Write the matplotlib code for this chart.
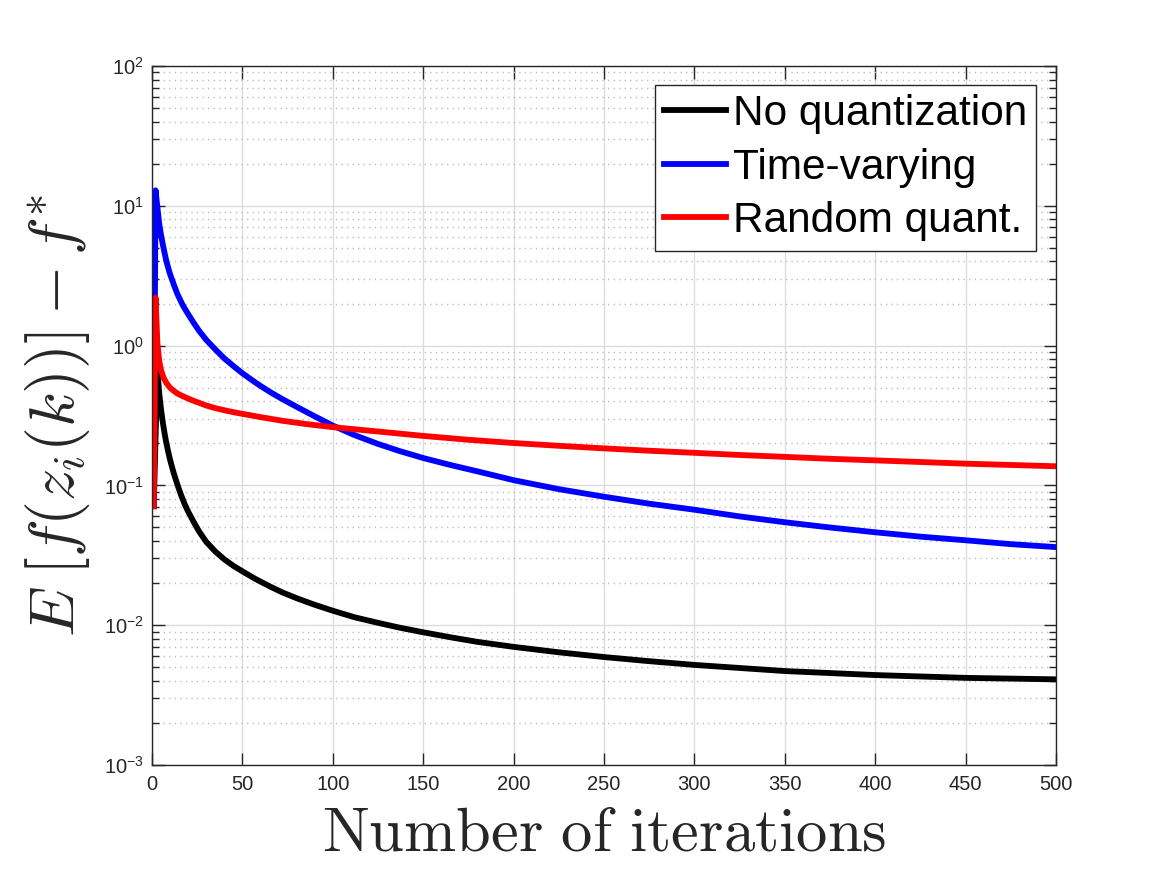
import numpy as np
import matplotlib
matplotlib.use("Agg")
import matplotlib.pyplot as plt
from matplotlib.ticker import LogLocator, FixedLocator, NullFormatter

plt.rcParams['font.family'] = ['Liberation Sans', 'DejaVu Sans']
plt.rcParams['mathtext.fontset'] = 'cm'

# iterations / values
k_noq = [1, 3, 4, 5, 6, 7, 8, 9, 10, 11, 12, 14, 16, 18, 20, 23, 26, 30, 35,
         40, 45, 50, 57, 65, 72, 80, 90, 100, 112, 125, 137, 150, 165,
         180, 200, 225, 250, 275, 300, 350, 400, 450, 500]
f_noq = [0.071, 0.68, 0.46, 0.352, 0.283, 0.235, 0.20, 0.174, 0.153, 0.137,
         0.123, 0.102, 0.086, 0.074, 0.065, 0.055, 0.047, 0.0395, 0.0337,
         0.0296, 0.0266, 0.0243, 0.0215, 0.0190, 0.0172, 0.0156, 0.0140,
         0.0127, 0.0114, 0.0104, 0.0096, 0.0089, 0.0082, 0.0076, 0.0070,
         0.0064, 0.00592, 0.00553, 0.0052, 0.0047, 0.0044, 0.0042, 0.0041]

k_tv = [1, 2, 3, 4, 5, 6, 7, 8, 9, 10, 12, 14, 17, 20, 23, 26, 30, 35, 40, 45,
        50, 55, 60, 66, 72, 80, 90, 100, 112, 125, 137, 150, 165, 180, 200,
        225, 250, 275, 300, 325, 350, 375, 400, 425, 450, 475, 500]
f_tv = [0.071, 12.9, 9.8, 7.5, 6.2, 5.3, 4.6, 4.0, 3.6, 3.25, 2.75, 2.35, 1.95,
        1.68, 1.46, 1.28, 1.1, 0.94, 0.81, 0.715, 0.635, 0.57, 0.515, 0.46,
        0.415, 0.365, 0.312, 0.268, 0.229, 0.198, 0.176, 0.157, 0.14, 0.126,
        0.109, 0.094, 0.083, 0.074, 0.067, 0.060, 0.0545, 0.050, 0.0462,
        0.043, 0.0405, 0.038, 0.0362]

k_rq = [1, 2, 3, 4, 5, 6, 7, 8, 10, 12, 14, 17, 20, 23, 26, 30, 35, 40, 45, 50,
        60, 72, 85, 100, 125, 150, 175, 200, 225, 250, 275, 300, 325, 350,
        375, 400, 425, 450, 475, 500]
f_rq = [0.071, 2.2, 1.05, 0.78, 0.67, 0.61, 0.57, 0.54, 0.5, 0.475, 0.455,
        0.435, 0.418, 0.403, 0.39, 0.373, 0.357, 0.345, 0.334, 0.325, 0.308,
        0.29, 0.275, 0.261, 0.243, 0.226, 0.212, 0.201, 0.192, 0.184, 0.177,
        0.171, 0.165, 0.160, 0.155, 0.151, 0.147, 0.143, 0.140, 0.137]

labels = ['No quantization', 'Time-varying', 'Random quant.']
x_ticks = list(range(0, 501, 50))

fig = plt.figure(figsize=(11.67, 8.75), dpi=100)
ax = fig.add_axes([0.1302, 0.1257, 0.7747, 0.7989])

lw = 4.2
ax.plot(k_noq, f_noq, color='black', lw=lw, label=labels[0])
ax.plot(k_tv, f_tv, color='blue', lw=lw, label=labels[1])
ax.plot(k_rq, f_rq, color='red', lw=lw, label=labels[2])

ax.set_yscale('log')
ax.set_xlim(0, 500)
ax.set_ylim(1e-3, 1e2)
ax.xaxis.set_major_locator(FixedLocator(x_ticks))
ax.yaxis.set_major_locator(LogLocator(base=10, numticks=10))
ax.yaxis.set_minor_locator(LogLocator(base=10, subs=np.arange(2, 10), numticks=20))
ax.yaxis.set_minor_formatter(NullFormatter())

ax.grid(True, which='major', axis='both', color='#dcdcdc', lw=1.0, ls='-')
ax.grid(True, which='minor', axis='y', color='#bdbdbd', lw=1.0, ls=(0, (1, 3)))
ax.set_axisbelow(True)

for s in ax.spines.values():
    s.set_color('#262626')
    s.set_linewidth(1.0)
ax.tick_params(which='both', direction='in', top=True, right=True,
               colors='#262626', labelsize=14.5, width=1.0)
ax.tick_params(which='major', length=9)
ax.tick_params(which='minor', length=5)
ax.tick_params(axis='x', pad=7)
ax.tick_params(axis='y', pad=6)

ax.set_xlabel(r'$\mathrm{Number\ of\ iterations}$', fontsize=45, color='#262626')
ax.set_ylabel(r'$E\;\left[f(z_i(k))\right] - f^{*}$', fontsize=46, color='#262626')
ax.xaxis.set_label_coords(0.5, -0.057)
ax.yaxis.set_label_coords(-0.066, 0.5)

leg = ax.legend(loc='upper right', bbox_to_anchor=(0.978, 0.973), borderaxespad=0,
                fontsize=30.5, handlelength=1.47, handletextpad=0.15,
                labelspacing=0.32, borderpad=0.22, fancybox=False, framealpha=1)
leg.get_frame().set_edgecolor('#262626')
leg.get_frame().set_linewidth(1.0)

fig.savefig('out.png', dpi=100)
